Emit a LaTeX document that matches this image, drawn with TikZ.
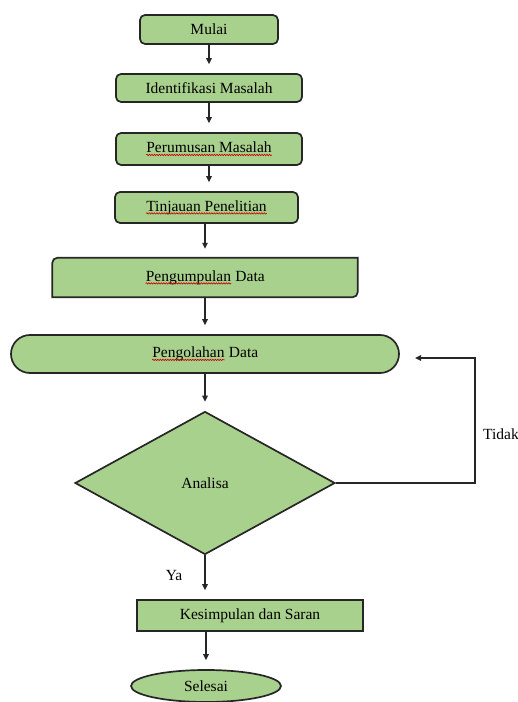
\documentclass[tikz,border=0pt]{standalone}
\usepackage{fontspec}
\setmainfont{Liberation Serif}
\usetikzlibrary{arrows.meta,shapes.geometric,backgrounds,decorations.pathmorphing}

\definecolor{hijau}{HTML}{A9D18E}
\definecolor{garis}{HTML}{262626}

% garis bergelombang merah (tanda ejaan)
\newcommand\salah[1]{\tikz[baseline=(w.base)]{\node (w) [shape=rectangle, inner sep=0pt, draw=none, fill=none, minimum width=0pt, minimum height=0pt, rounded corners=0pt] {#1};
  \draw [red!80!black, line width=0.6pt, rounded corners=0pt, decorate, decoration={snake, amplitude=0.7pt, segment length=2.5pt}] ([yshift=-2.2pt]w.base west) -- ([yshift=-2.2pt]w.base east);}}

\tikzset{
  teks/.style={inner sep=0pt, font=\fontsize{15.5}{18}\selectfont, text=black},
  kotak/.style={teks, draw=garis, fill=hijau, line width=1.7pt},
  latar/.style={draw=garis, fill=hijau, line width=1.7pt},
  panah/.style={-{Triangle[length=6pt,width=5.5pt]}, line width=1.3pt, draw=garis, shorten >=9pt}
}

\begin{document}
\begin{tikzpicture}[x=1pt, y=1pt]
	\useasboundingbox (0,0) rectangle (518,702);

	\node (mulai) [kotak, rounded corners=5pt, minimum width=138pt, minimum height=29pt] at (209,672.5) {Mulai};
	\node (ident) [kotak, rounded corners=5pt, minimum width=186pt, minimum height=28pt] at (209,614) {Identifikasi Masalah};
	\node (perum) [kotak, rounded corners=5pt, minimum width=186pt, minimum height=32pt] at (209,553) {\salah{Perumusan Masalah}};
	\node (tinjau) [kotak, rounded corners=5pt, minimum width=183pt, minimum height=31pt] at (206.5,494.5) {\salah{Tinjauan Penelitian}};
	\node (pengum) [teks, minimum width=305pt, minimum height=39pt] at (205,424.5) {\salah{Pengumpulan} Data};
	\node (pengol) [kotak, rounded corners=19pt, minimum width=388pt, minimum height=38pt] at (205,348) {\salah{Pengolahan} Data};
	\node (analisa) [kotak, diamond, minimum width=260pt, minimum height=143pt] at (205,219) {Analisa};
	\node (kesim) [kotak, minimum width=226pt, minimum height=31pt] at (250,86.5) {Kesimpulan dan Saran};
	\node (selesai) [kotak, ellipse, minimum width=150pt, minimum height=32pt] at (206,16) {Selesai};

	\begin{scope}[on background layer]
		\draw [latar] (pengum.south west) -- ([yshift=-5pt]pengum.north west) arc [start angle=180, end angle=90, radius=5pt] -- (pengum.north east) -- ([yshift=5pt]pengum.south east) arc [start angle=0, end angle=-90, radius=5pt] -- cycle;
	\end{scope}

	\coordinate (balik) at (475,344);
	\coordinate (ujung) at (415,344);

	\draw [panah] (mulai.south) -- (ident.north);
	\draw [panah] (ident.south) -- (perum.north);
	\draw [panah] (perum.south) -- (perum.south |- tinjau.north);
	\draw [panah] (pengum.north |- tinjau.south) -- (pengum.north);
	\draw [panah] (pengum.south) -- (pengum.south |- pengol.north);
	\draw [panah] (analisa.north |- pengol.south) -- (analisa.north);
	\draw [panah] (analisa.south) -- (analisa.south |- kesim.north) node [teks, pos=0.45, left=22pt] {Ya};
	\draw [panah] (selesai.north |- kesim.south) -- (selesai.north);
	\draw [panah, shorten >=0pt] (analisa.east) -| (balik) -- (ujung);
	\node (tidak) [teks, anchor=west] at (483,268) {Tidak};
\end{tikzpicture}
\end{document}
